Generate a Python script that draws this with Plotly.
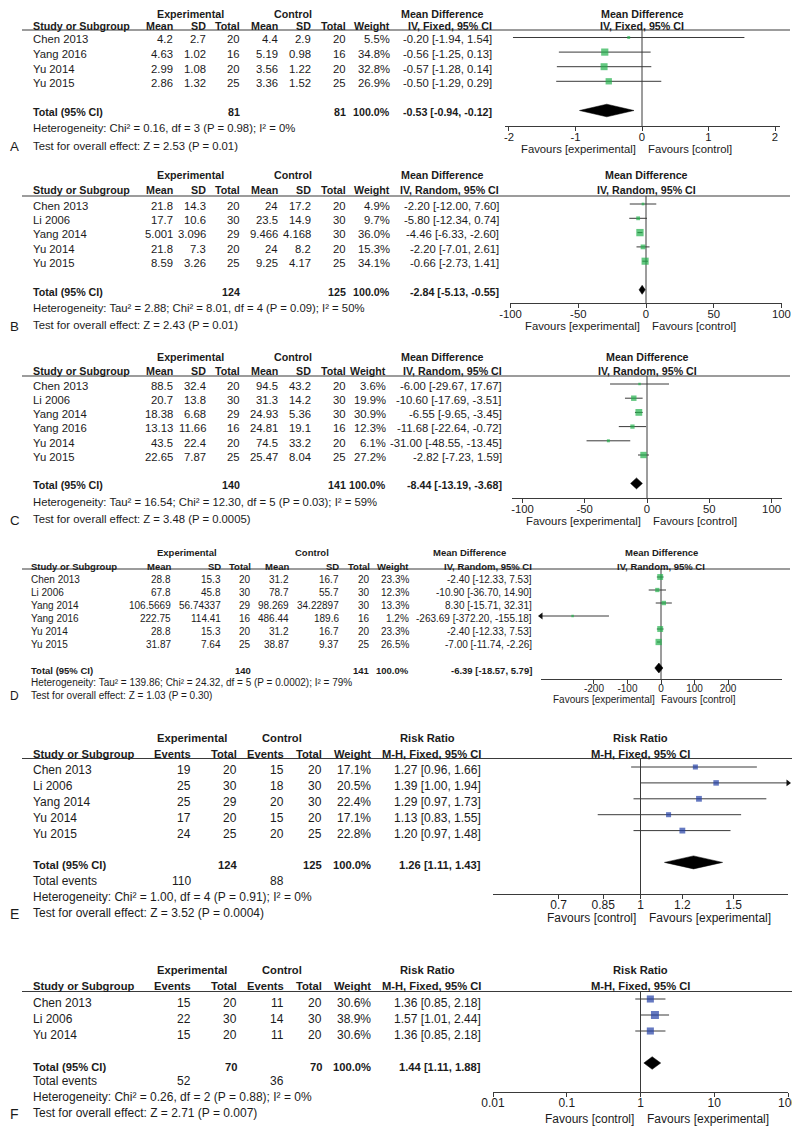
import plotly.graph_objects as go

# ---------------- data ----------------
# Panel A  (Mean Difference, IV Fixed)
studies_A = ["Chen 2013", "Yang 2016", "Yu 2014", "Yu 2015"]
exp_mean_A = ["4.2", "4.63", "2.99", "2.86"]
exp_sd_A = ["2.7", "1.02", "1.08", "1.32"]
exp_n_A = [20, 16, 20, 25]
ctl_mean_A = ["4.4", "5.19", "3.56", "3.36"]
ctl_sd_A = ["2.9", "0.98", "1.22", "1.52"]
ctl_n_A = [20, 16, 20, 25]
weight_A = [5.5, 34.8, 32.8, 26.9]
est_A = [-0.20, -0.56, -0.57, -0.50]
lo_A = [-1.94, -1.25, -1.28, -1.29]
hi_A = [1.54, 0.13, 0.14, 0.29]
total_n_A = [81, 81]
total_ci_A = [-0.53, -0.94, -0.12]
het_A = "Heterogeneity: Chi² = 0.16, df = 3 (P = 0.98); I² = 0%"
test_A = "Test for overall effect: Z = 2.53 (P = 0.01)"
ticks_A = [-2, -1, 0, 1, 2]
ticktext_A = ["-2", "-1", "0", "1", "2"]

# Panel B  (Mean Difference, IV Random)
studies_B = ["Chen 2013", "Li 2006", "Yang 2014", "Yu 2014", "Yu 2015"]
exp_mean_B = ["21.8", "17.7", "5.001", "21.8", "8.59"]
exp_sd_B = ["14.3", "10.6", "3.096", "7.3", "3.26"]
exp_n_B = [20, 30, 29, 20, 25]
ctl_mean_B = ["24", "23.5", "9.466", "24", "9.25"]
ctl_sd_B = ["17.2", "14.9", "4.168", "8.2", "4.17"]
ctl_n_B = [20, 30, 30, 20, 25]
weight_B = [4.9, 9.7, 36.0, 15.3, 34.1]
est_B = [-2.20, -5.80, -4.46, -2.20, -0.66]
lo_B = [-12.00, -12.34, -6.33, -7.01, -2.73]
hi_B = [7.60, 0.74, -2.60, 2.61, 1.41]
total_n_B = [124, 125]
total_ci_B = [-2.84, -5.13, -0.55]
het_B = "Heterogeneity: Tau² = 2.88; Chi² = 8.01, df = 4 (P = 0.09); I² = 50%"
test_B = "Test for overall effect: Z = 2.43 (P = 0.01)"
ticks_B = [-100, -50, 0, 50, 100]
ticktext_B = ["-100", "-50", "0", "50", "100"]

# Panel C  (Mean Difference, IV Random)
studies_C = ["Chen 2013", "Li 2006", "Yang 2014", "Yang 2016", "Yu 2014", "Yu 2015"]
exp_mean_C = ["88.5", "20.7", "18.38", "13.13", "43.5", "22.65"]
exp_sd_C = ["32.4", "13.8", "6.68", "11.66", "22.4", "7.87"]
exp_n_C = [20, 30, 29, 16, 20, 25]
ctl_mean_C = ["94.5", "31.3", "24.93", "24.81", "74.5", "25.47"]
ctl_sd_C = ["43.2", "14.2", "5.36", "19.1", "33.2", "8.04"]
ctl_n_C = [20, 30, 30, 16, 20, 25]
weight_C = [3.6, 19.9, 30.9, 12.3, 6.1, 27.2]
est_C = [-6.00, -10.60, -6.55, -11.68, -31.00, -2.82]
lo_C = [-29.67, -17.69, -9.65, -22.64, -48.55, -7.23]
hi_C = [17.67, -3.51, -3.45, -0.72, -13.45, 1.59]
total_n_C = [140, 141]
total_ci_C = [-8.44, -13.19, -3.68]
het_C = "Heterogeneity: Tau² = 16.54; Chi² = 12.30, df = 5 (P = 0.03); I² = 59%"
test_C = "Test for overall effect: Z = 3.48 (P = 0.0005)"
ticks_C = [-100, -50, 0, 50, 100]
ticktext_C = ["-100", "-50", "0", "50", "100"]

# Panel D  (Mean Difference, IV Random)
studies_D = ["Chen 2013", "Li 2006", "Yang 2014", "Yang 2016", "Yu 2014", "Yu 2015"]
exp_mean_D = ["28.8", "67.8", "106.5669", "222.75", "28.8", "31.87"]
exp_sd_D = ["15.3", "45.8", "56.74337", "114.41", "15.3", "7.64"]
exp_n_D = [20, 30, 29, 16, 20, 25]
ctl_mean_D = ["31.2", "78.7", "98.269", "486.44", "31.2", "38.87"]
ctl_sd_D = ["16.7", "55.7", "34.22897", "189.6", "16.7", "9.37"]
ctl_n_D = [20, 30, 30, 16, 20, 25]
weight_D = [23.3, 12.3, 13.3, 1.2, 23.3, 26.5]
est_D = [-2.40, -10.90, 8.30, -263.69, -2.40, -7.00]
lo_D = [-12.33, -36.70, -15.71, -372.20, -12.33, -11.74]
hi_D = [7.53, 14.90, 32.31, -155.18, 7.53, -2.26]
total_n_D = [140, 141]
total_ci_D = [-6.39, -18.57, 5.79]
het_D = "Heterogeneity: Tau² = 139.86; Chi² = 24.32, df = 5 (P = 0.0002); I² = 79%"
test_D = "Test for overall effect: Z = 1.03 (P = 0.30)"
ticks_D = [-200, -100, 0, 100, 200]
ticktext_D = ["-200", "-100", "0", "100", "200"]

# Panel E  (Risk Ratio, M-H Fixed)
studies_E = ["Chen 2013", "Li 2006", "Yang 2014", "Yu 2014", "Yu 2015"]
exp_ev_E = [19, 25, 25, 17, 24]
exp_n_E = [20, 30, 29, 20, 25]
ctl_ev_E = [15, 18, 20, 15, 20]
ctl_n_E = [20, 30, 30, 20, 25]
weight_E = [17.1, 20.5, 22.4, 17.1, 22.8]
est_E = [1.27, 1.39, 1.29, 1.13, 1.20]
lo_E = [0.96, 1.00, 0.97, 0.83, 0.97]
hi_E = [1.66, 1.94, 1.73, 1.55, 1.48]
total_n_E = [124, 125]
total_ev_E = [110, 88]
total_ci_E = [1.26, 1.11, 1.43]
het_E = "Heterogeneity: Chi² = 1.00, df = 4 (P = 0.91); I² = 0%"
test_E = "Test for overall effect: Z = 3.52 (P = 0.0004)"
ticks_E = [0.7, 0.85, 1, 1.2, 1.5]
ticktext_E = ["0.7", "0.85", "1", "1.2", "1.5"]

# Panel F  (Risk Ratio, M-H Fixed)
studies_F = ["Chen 2013", "Li 2006", "Yu 2014"]
exp_ev_F = [15, 22, 15]
exp_n_F = [20, 30, 20]
ctl_ev_F = [11, 14, 11]
ctl_n_F = [20, 30, 20]
weight_F = [30.6, 38.9, 30.6]
est_F = [1.36, 1.57, 1.36]
lo_F = [0.85, 1.01, 0.85]
hi_F = [2.18, 2.44, 2.18]
total_n_F = [70, 70]
total_ev_F = [52, 36]
total_ci_F = [1.44, 1.11, 1.88]
het_F = "Heterogeneity: Chi² = 0.26, df = 2 (P = 0.88); I² = 0%"
test_F = "Test for overall effect: Z = 2.71 (P = 0.007)"
ticks_F = [0.01, 0.1, 1, 10, 100]
ticktext_F = ["0.01", "0.1", "1", "10", "100"]

# ---------------- styling / layout ----------------
W, H = 800, 1135
OX, OY = 8, 8          # page offset of the figure inside the browser window
FONT = "Arial, 'Liberation Sans', sans-serif"
TXT = "#1b1b1b"
AX = "#3a3a3a"
GREEN = "#22b14c"
BLUE = "#2340a6"

annotations = []
shapes = []
layout_axes = {}
fig = go.Figure()


def fx(x):
    return (x - OX) / W


def fy(y):
    return 1 - (y - OY) / H


def add_text(x, y, s, size, anchor="left", bold=False):
    y = max(y, OY + 0.6 * size)   # keep text inside the figure area
    annotations.append(dict(
        x=fx(x), y=fy(y), xref="paper", yref="paper",
        text=f"<b>{s}</b>" if bold else s, showarrow=False,
        xanchor=anchor, yanchor="middle", borderpad=0,
        font=dict(family=FONT, size=size, color=TXT)))


def ci_str(e, l, h):
    return f"{e:.2f} [{l:.2f}, {h:.2f}]"


MD_HEADS = ["Mean", "SD", "Total", "Mean", "SD", "Total", "Weight"]
RR_HEADS = ["Events", "Total", "Events", "Total", "Weight"]


def build_panel(k, P, studies, cells, weight, est, lo, hi, tot_n, tot_ci, tot_ev,
                het, test, ticks, ticktext, color, label):
    fs, fb = P["fs"], P["fb"]
    n = len(studies)
    # ---- table ----
    for xc, s in P["groups"]:
        add_text(xc, P["gy"], s, fb, "center", True)
    add_text(P["sx"], P["hy"], "Study or Subgroup", fb, "left", True)
    for xr, s in zip(P["cx"], P["heads"]):
        add_text(xr, P["hy"], s, fb, "right", True)
    shapes.append(dict(type="line", xref="paper", yref="paper",
                       x0=fx(P["lx0"]), x1=fx(P["lx1"]),
                       y0=fy(P["line"]), y1=fy(P["line"]),
                       line=dict(color=AX, width=1.2)))
    for i, name in enumerate(studies):
        y = P["y0"] + i * P["sp"] + P["dt"]
        add_text(P["sx"], y, name, fs)
        vals = [str(c[i]) for c in cells] + [f"{weight[i]:.1f}%", ci_str(est[i], lo[i], hi[i])]
        for xr, s in zip(P["cx"], vals):
            add_text(xr, y, s, fs, "right")
    yt = P["y0"] + (n + 1) * P["sp"] + P["dt"]
    add_text(P["sx"], yt, "Total (95% CI)", fb, "left", True)
    tot = [""] * len(P["cx"])
    tot[P["ni"][0]] = str(tot_n[0])
    tot[P["ni"][1]] = str(tot_n[1])
    tot[-2] = "100.0%"
    tot[-1] = ci_str(*tot_ci)
    for xr, s in zip(P["cx"], tot):
        if s:
            add_text(xr, yt, s, fb, "right", True)
    if tot_ev is not None:
        add_text(P["sx"], P["evy"], "Total events", fs)
        add_text(P["cx"][0], P["evy"], str(tot_ev[0]), fs, "right")
        add_text(P["cx"][2], P["evy"], str(tot_ev[1]), fs, "right")
    add_text(P["sx"], P["hety"], het, fs)
    add_text(P["sx"], P["testy"], test, fs)
    add_text(9, P["testy"] + 1, label, fs + 2)

    # ---- forest plot ----
    add_text(P["pc"], P["gy"], P["ptitle"], fb, "center", True)
    add_text(P["pc"], P["hy"], P["heads"][-1], fb, "center", True)
    add_text(P["fl"], P["fy"], P["favl"], fs, "right")
    add_text(P["fr"], P["fy"], P["favr"], fs, "left")

    log = P["log"]
    xa, ya = f"x{k}", f"y{k}"
    r_top = (P["line"] - P["y0"]) / P["sp"]
    r_bot = (P["axis"] - P["y0"]) / P["sp"]
    layout_axes[f"xaxis{k}"] = dict(
        domain=[fx(P["xl"]), fx(P["xr"])], range=P["xrange"],
        type="log" if log else "linear", anchor=ya,
        showline=True, linecolor=AX, linewidth=1,
        ticks="outside", ticklen=4, tickcolor=AX, tickwidth=1,
        tickvals=ticks, ticktext=ticktext, ticklabelstandoff=-4,
        tickfont=dict(family=FONT, size=fs, color=TXT),
        showgrid=False, zeroline=False, fixedrange=True, automargin=False)
    layout_axes[f"yaxis{k}"] = dict(
        domain=[fy(P["axis"]), fy(P["line"])], range=[r_bot, r_top],
        visible=False, fixedrange=True, automargin=False)

    xmin, xmax = P["xrange"]
    if log:
        xmin, xmax = 10 ** xmin, 10 ** xmax
    ref = 1 if log else 0
    fig.add_trace(go.Scatter(x=[ref, ref], y=[r_top, r_bot], mode="lines",
                             line=dict(color=AX, width=1), xaxis=xa, yaxis=ya,
                             cliponaxis=False))
    lx, ly, arx, ary, ars = [], [], [], [], []
    for i in range(n):
        a, b = max(lo[i], xmin), min(hi[i], xmax)
        lx += [a, b, None]
        ly += [i, i, None]
        if lo[i] < xmin:
            arx.append(xmin); ary.append(i); ars.append("triangle-left")
        if hi[i] > xmax:
            arx.append(xmax); ary.append(i); ars.append("triangle-right")
    fig.add_trace(go.Scatter(x=lx, y=ly, mode="lines", line=dict(color=AX, width=1),
                             xaxis=xa, yaxis=ya, cliponaxis=False))
    if arx:
        fig.add_trace(go.Scatter(x=arx, y=ary, mode="markers",
                                 marker=dict(symbol=ars, size=6, color="#111"),
                                 xaxis=xa, yaxis=ya, cliponaxis=False))
    sizes = [max(2.5, P["msc"] * w ** 0.5) for w in weight]
    fig.add_trace(go.Scatter(x=est, y=list(range(n)), mode="markers",
                             marker=dict(symbol="square", size=sizes, color=color,
                                         line=dict(width=0)),
                             xaxis=xa, yaxis=ya, cliponaxis=False))
    e, l, h = tot_ci
    yr = n + 1
    dh = P["dh"] / P["sp"]
    fig.add_trace(go.Scatter(x=[l, e, h, e, l], y=[yr, yr - dh, yr, yr + dh, yr],
                             mode="lines", fill="toself", fillcolor="#000",
                             line=dict(color="#000", width=0.5),
                             xaxis=xa, yaxis=ya, cliponaxis=False))


MD_X = [174, 207, 241, 279, 312, 347, 391, 493]
MD_GROUPS = [(190, "Experimental"), (293, "Control"), (442, "Mean Difference")]
RR_X = [192, 238, 285, 323, 372, 482]
RR_GROUPS = [(192, "Experimental"), (282, "Control"), (427, "Risk Ratio")]
FAV_E = "Favours [experimental]"
FAV_C = "Favours [control]"

PA = dict(fs=11.3, fb=10.7, line=30, y0=37.5, sp=14.6, dt=1.8, axis=126, gy=9, hy=25.5,
          hety=128.3, testy=145.7, fy=149, xl=505, xr=780, xrange=[-2.06, 2.075],
          pc=642, fl=637, fr=647, dh=6.3, lx0=22, lx1=790, sx=32, cx=MD_X,
          groups=MD_GROUPS, heads=MD_HEADS + ["IV, Fixed, 95% CI"], ni=[2, 5],
          ptitle="Mean Difference", favl=FAV_E, favr=FAV_C, log=False, msc=1.22)
PB = dict(PA, line=196, y0=204, sp=14.3, axis=303, gy=175, hy=190,
          hety=308, testy=325, fy=326, xl=510, xr=782, xrange=[-100.4, 100.4],
          pc=646, fl=641, fr=651, dh=4.5, cx=MD_X[:-1] + [500],
          heads=MD_HEADS + ["IV, Random, 95% CI"])
PC = dict(PA, line=376, y0=384, sp=14.2, axis=498, gy=357, hy=371,
          hety=502, testy=519, fy=521, xl=512, xr=782, xrange=[-108.4, 108.4],
          pc=647, fl=642, fr=652, dh=5.5, cx=MD_X[:-2] + [387, 503],
          heads=MD_HEADS + ["IV, Random, 95% CI"])
PD = dict(PA, fs=10, fb=9.5, line=569, y0=577, sp=13.0, dt=2, axis=679, gy=552, hy=566,
          hety=682.3, testy=695, fy=699, xl=541, xr=782, xrange=[-358, 361],
          pc=661, fl=656, fr=660, dh=5, sx=30, cx=[172, 222, 252, 290, 340, 371, 410, 533],
          groups=[(187, "Experimental"), (312, "Control"), (469, "Mean Difference")],
          heads=MD_HEADS + ["IV, Random, 95% CI"])
PE = dict(fs=12, fb=11.2, line=758.5, y0=767, sp=15.9, dt=3, axis=894, gy=738, hy=754,
          evy=880.7, hety=896.7, testy=913, fy=918, xl=493, xr=788,
          xrange=[-0.279, 0.279], pc=640.5, fl=637, fr=648, dh=6.5, lx0=22, lx1=798,
          sx=32, cx=RR_X, groups=RR_GROUPS, heads=RR_HEADS + ["M-H, Fixed, 95% CI"],
          ni=[1, 3], ptitle="Risk Ratio", favl=FAV_C, favr=FAV_E, log=True, msc=1.22)
PF = dict(PE, line=991.5, y0=999, sp=16, dt=3.5, axis=1092, gy=970, hy=986,
          evy=1080.7, hety=1096.7, testy=1112.7, fy=1119, xrange=[-2, 2],
          fl=635, fr=646, dh=6.3, msc=1.28)

build_panel(1, PA, studies_A, [exp_mean_A, exp_sd_A, exp_n_A, ctl_mean_A, ctl_sd_A, ctl_n_A],
            weight_A, est_A, lo_A, hi_A, total_n_A, total_ci_A, None, het_A, test_A,
            ticks_A, ticktext_A, GREEN, "A")
build_panel(2, PB, studies_B, [exp_mean_B, exp_sd_B, exp_n_B, ctl_mean_B, ctl_sd_B, ctl_n_B],
            weight_B, est_B, lo_B, hi_B, total_n_B, total_ci_B, None, het_B, test_B,
            ticks_B, ticktext_B, GREEN, "B")
build_panel(3, PC, studies_C, [exp_mean_C, exp_sd_C, exp_n_C, ctl_mean_C, ctl_sd_C, ctl_n_C],
            weight_C, est_C, lo_C, hi_C, total_n_C, total_ci_C, None, het_C, test_C,
            ticks_C, ticktext_C, GREEN, "C")
build_panel(4, PD, studies_D, [exp_mean_D, exp_sd_D, exp_n_D, ctl_mean_D, ctl_sd_D, ctl_n_D],
            weight_D, est_D, lo_D, hi_D, total_n_D, total_ci_D, None, het_D, test_D,
            ticks_D, ticktext_D, GREEN, "D")
build_panel(5, PE, studies_E, [exp_ev_E, exp_n_E, ctl_ev_E, ctl_n_E],
            weight_E, est_E, lo_E, hi_E, total_n_E, total_ci_E, total_ev_E, het_E, test_E,
            ticks_E, ticktext_E, BLUE, "E")
build_panel(6, PF, studies_F, [exp_ev_F, exp_n_F, ctl_ev_F, ctl_n_F],
            weight_F, est_F, lo_F, hi_F, total_n_F, total_ci_F, total_ev_F, het_F, test_F,
            ticks_F, ticktext_F, BLUE, "F")

layout_axes["xaxis"] = layout_axes.pop("xaxis1")
layout_axes["yaxis"] = layout_axes.pop("yaxis1")

fig.update_layout(
    width=W, height=H, autosize=False,
    margin=dict(l=0, r=0, t=0, b=0, pad=0, autoexpand=False),
    paper_bgcolor="white", plot_bgcolor="white",
    showlegend=False, hovermode=False,
    annotations=annotations, shapes=shapes,
    font=dict(family=FONT, color=TXT),
    **layout_axes)

fig.write_html("out.html")
